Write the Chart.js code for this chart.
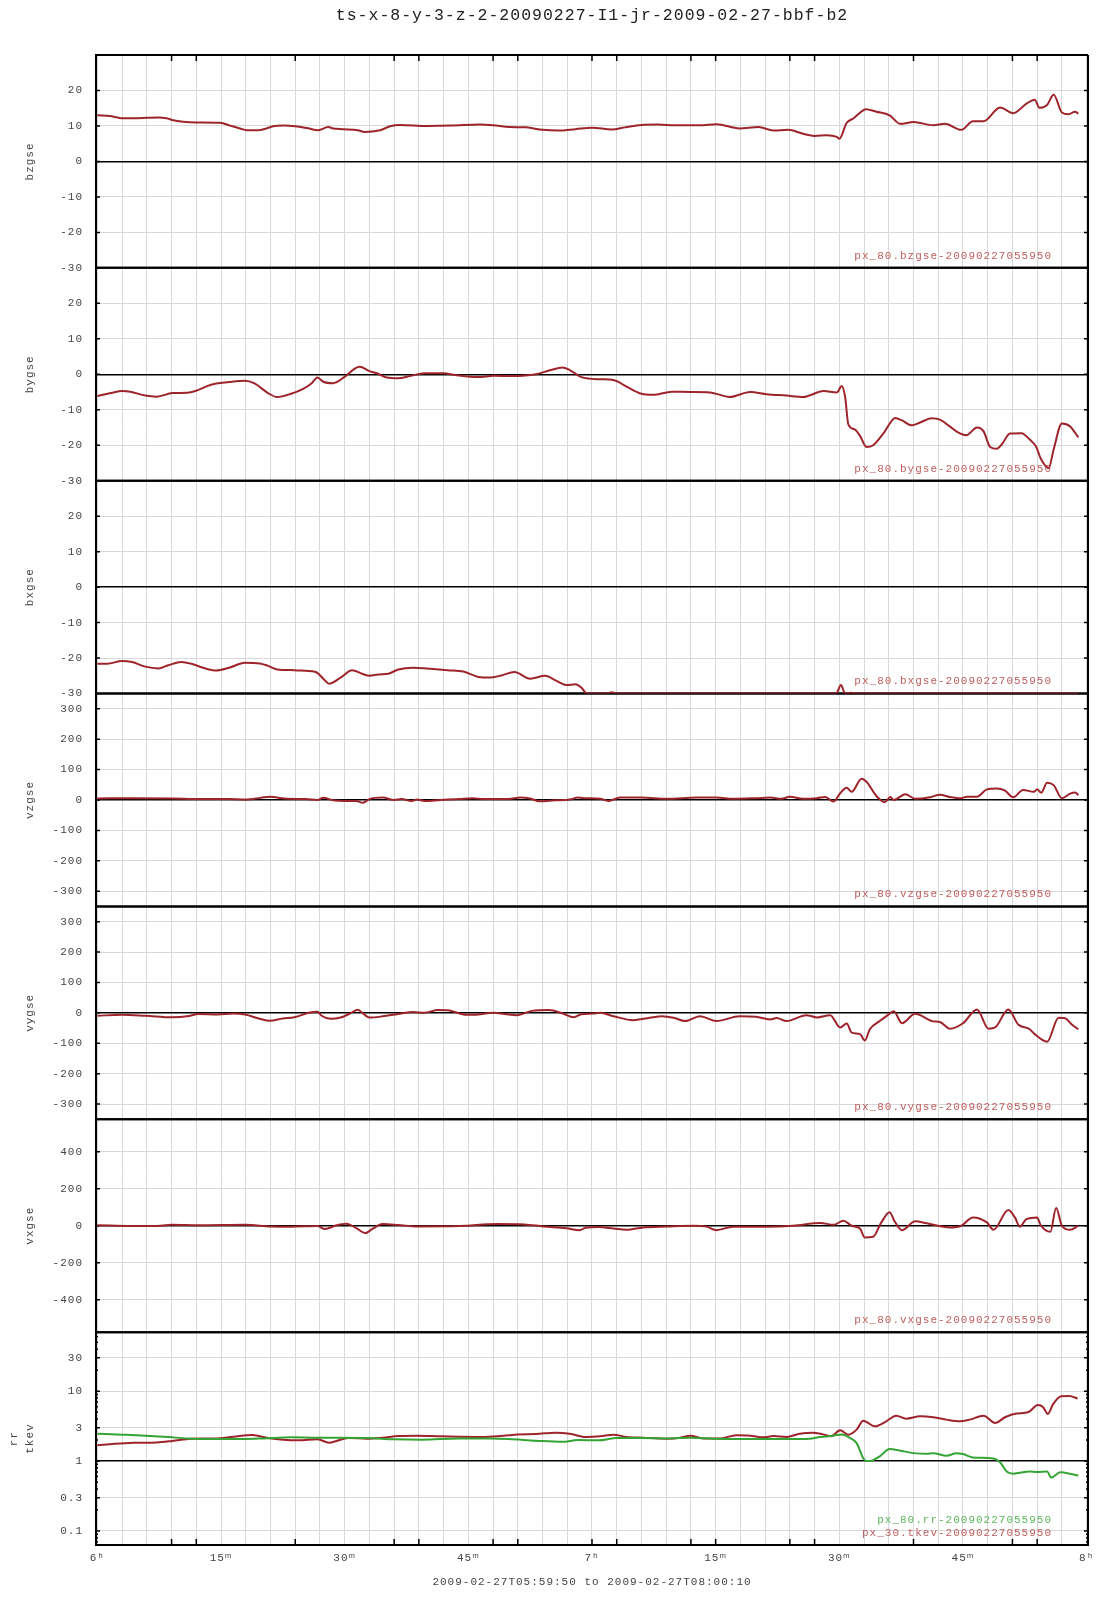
<!DOCTYPE html>
<html>
<head>
<meta charset="utf-8">
<title>ts-x-8-y-3-z-2-20090227-I1-jr-2009-02-27-bbf-b2</title>
<script src="https://cdn.jsdelivr.net/npm/chart.js@4.4.1/dist/chart.umd.min.js"></script>
<style>
  html, body { margin: 0; padding: 0; background: #fff; }
  canvas { display: block; }
</style>
</head>
<body>
<canvas id="chart" width="1107" height="1600"></canvas>
<script>
// each series: [minutes after 06:00, value]
const bzgse = [
  [0, 13.0], [1.5, 12.8], [2.9, 12.2], [4.4, 12.2], [6, 12.3], [7.4, 12.4], [8.4, 12.2], [9.2, 11.6], [10.4, 11.2], [12, 11.0],
  [14.9, 10.9], [16.1, 10.1], [17.3, 9.3], [18.1, 8.8], [19.5, 8.8], [20.5, 9.3], [21.3, 9.9], [22.6, 10.1], [24, 9.9], [25.4, 9.4],
  [26.8, 8.8], [28, 9.7], [28.6, 9.3], [29.8, 9.1], [31.6, 8.8], [32.4, 8.3], [34.3, 8.8], [35.5, 9.9], [36.7, 10.3], [40, 10.0],
  [43, 10.1], [46.4, 10.4], [48, 10.2], [50, 9.7], [52, 9.6], [54, 8.9], [56, 8.7], [58, 9.1], [60, 9.5], [62.4, 9.0],
  [64, 9.6], [66, 10.3], [68, 10.4], [70, 10.2], [73.1, 10.2], [75.1, 10.5], [77.9, 9.3], [80.2, 9.7], [82, 8.7], [83.8, 8.9],
  [85.6, 7.8], [87, 7.2], [88.5, 7.4], [89.7, 6.9], [90, 6.4], [90.9, 10.9], [91.7, 12.1], [92.4, 13.5], [93.2, 14.7], [94.5, 14.0],
  [96.1, 13.0], [97.4, 10.6], [99, 11.1], [101.4, 10.2], [102.8, 10.6], [104.8, 8.9], [106.2, 11.3], [107.5, 11.3], [109.5, 15.2], [111.1, 13.6],
  [112.7, 16.3], [113.7, 17.4], [114.3, 15.1], [115.2, 15.9], [116, 18.8], [117, 13.8], [117.8, 13.3], [118.6, 14.0], [119, 13.5]
];
const bygse = [
  [0, -6.1], [1.65, -5.3], [3, -4.7], [4, -4.9], [5.8, -6.0], [7.2, -6.3], [9.1, -5.3], [10.9, -5.2], [11.9, -4.7], [13.7, -3.0],
  [16, -2.2], [17.9, -1.8], [19, -2.5], [20.7, -5.3], [21.8, -6.4], [23.5, -5.5], [24.9, -4.2], [26, -2.5], [26.7, -0.9], [27.4, -2.1],
  [28.6, -2.5], [29.9, -0.9], [31.8, 2.1], [33, 0.9], [33.9, 0.3], [35.1, -0.9], [36.5, -1.1], [37.9, -0.5], [39.7, 0.3], [42, 0.3],
  [43.4, -0.2], [46.2, -0.8], [48.1, -0.4], [50.4, -0.5], [53.2, 0], [55, 1.2], [56.4, 1.9], [57.3, 1.2], [58.7, -0.8], [61, -1.4],
  [62.6, -1.6], [64.2, -3.5], [66, -5.5], [67.4, -5.8], [69.7, -4.9], [71.9, -5.0], [74.3, -5.1], [76.7, -6.4], [79.2, -5.0], [81.2, -5.6],
  [83.6, -6.0], [85.6, -6.4], [88.1, -4.7], [89.7, -5.1], [90.3, -3.3], [90.7, -6.3], [91.1, -14.2], [91.9, -15.6], [92.5, -17.3], [93.3, -20.5],
  [94.1, -20.0], [95.4, -16.5], [96.8, -12.3], [97.6, -13.0], [98.8, -14.4], [99.8, -13.6], [101.2, -12.4], [102.2, -12.8], [103.4, -14.7], [104.4, -16.4],
  [105.4, -17.2], [106.7, -15.0], [107.5, -16.1], [108.3, -20.5], [109.1, -21.0], [109.7, -19.8], [110.7, -16.7], [112.1, -16.6], [113.1, -18.4], [113.9, -20.5],
  [114.4, -23.6], [115.4, -26.4], [116, -21.2], [117, -13.9], [118, -14.7], [119, -17.8]
];
const bxgse = [
  [0, -21.6], [1.2, -21.6], [3, -20.8], [4.2, -21.1], [5.8, -22.4], [7.4, -22.9], [8.6, -22.0], [10.2, -21.1], [11.4, -21.6], [12.8, -22.7],
  [14.4, -23.5], [16, -22.7], [17.9, -21.3], [19.7, -21.5], [20.7, -22.2], [21.8, -23.2], [23.9, -23.4], [25.3, -23.6], [26.5, -23.9], [27.4, -25.8],
  [28.1, -27.2], [29.5, -25.5], [30.9, -23.4], [32.1, -24.4], [33, -25.0], [34.1, -24.6], [35.3, -24.4], [36.5, -23.2], [38.3, -22.7], [40.2, -23.0],
  [42.5, -23.4], [44.4, -23.8], [46.2, -25.3], [47.6, -25.5], [49, -24.9], [50.6, -23.9], [52.5, -25.8], [54.3, -25.0], [55.7, -26.4], [56.9, -27.6],
  [58, -27.4], [58.7, -28.3], [59.4, -30], [61.8, -30], [62.4, -29.6], [63, -30], [70, -30], [80, -30], [89.6, -30], [90.2, -27.6],
  [90.7, -30], [91.4, -29.8], [92, -30], [100, -30], [110, -30], [119, -30]
];
const vzgse = [
  [0, 5], [4.4, 6], [9.1, 5], [12.3, 3], [16, 3], [17.9, 1.5], [19.8, 7], [20.9, 11], [21.6, 9], [23, 4],
  [25.3, 3], [26.7, 0], [27.4, 7], [28.6, -1], [30, -3], [31.4, -3], [32.2, -9], [33, 3], [34.6, 8], [36, 0],
  [36.9, 3], [38.1, -3], [38.8, 1.5], [39.7, -3], [41.6, 0], [43.9, 3], [45.5, 6], [46.7, 3], [48.5, 3], [49.9, 3],
  [51.3, 8], [52.5, 5], [53.6, -4], [55.5, -1], [57.3, 1.5], [58.3, 8], [59.2, 6], [61, 4], [62, -3], [63.4, 8],
  [66, 8], [69.1, 4], [72.7, 8], [75.1, 8], [77.1, 4], [79.9, 6], [81.6, 8], [83, 4], [84, 11], [85.6, 4],
  [87.3, 6], [88.3, 10], [89.3, -5], [90.1, 22], [90.9, 40], [91.5, 27], [92.7, 70], [93.3, 60], [94.5, 13], [95.5, -7],
  [96.2, 10], [96.6, 0], [98, 19], [99.2, 4], [101, 9], [102.2, 17], [103.4, 10], [104.8, 6], [105.5, 11], [106.7, 11],
  [107.9, 35], [109.1, 38], [110.1, 31], [111.1, 9], [112.3, 33], [113.6, 27], [114, 35], [114.5, 24], [115.2, 57], [116, 49],
  [117, 6], [118, 21], [118.6, 25], [119, 16]
];
const vygse = [
  [0, -9.5], [3, -6.5], [5.8, -9.5], [9.1, -14.5], [10.9, -11.5], [12.3, -3.5], [14.6, -5.5], [16.5, -2.5], [17.9, -5.5], [19.8, -20.5],
  [20.9, -26], [22.5, -18.5], [23.9, -14.5], [25.8, 1], [26.7, 3.5], [27.2, -9.5], [28.3, -19.5], [29.5, -15.5], [30.7, -1.5], [31.6, 10.5],
  [32.1, 1], [33, -15.5], [34.6, -11.5], [36.5, -3.5], [38.3, 2.5], [39.7, 0], [41.3, 9.5], [42.5, 8.5], [44.8, -6.5], [45.7, -6.5],
  [48.1, 0], [49.4, -3.5], [50.9, -7.5], [52.7, 6.5], [54.8, 9.5], [56.4, -1.5], [57.8, -14.5], [58.7, -4.5], [60.1, -2.5], [61, 0],
  [62.6, -11], [65, -24], [67, -16], [68.5, -11], [69.9, -16], [71.3, -27], [73.1, -11], [75.1, -27], [77.9, -11], [79.9, -13],
  [81.6, -21.5], [82.4, -17], [83.6, -27], [86, -7.5], [87.3, -15], [88.9, -7.5], [90.1, -48], [90.9, -35], [91.5, -65], [92.5, -70],
  [93.1, -91], [93.7, -54], [94.9, -27], [95.8, -9], [96.6, 5], [97.6, -34], [99.2, -3], [101.4, -28], [102.2, -30], [103.4, -52],
  [105, -34], [106.7, 11], [108.1, -52], [108.9, -48], [110.5, 11], [111.7, -38], [113.1, -54], [113.7, -70], [115.2, -95], [116.6, -16],
  [117.4, -18], [118.2, -38], [119, -54]
];
const vxgse = [
  [0, 2], [6.8, -2], [9.1, 5], [12.3, 2], [17.9, 5], [21.1, -4], [23.5, -5], [26.7, -2], [27.6, -18], [29, 2],
  [30.2, 11], [31.4, -13], [32.5, -40], [33.4, -16], [34.6, 9], [36.5, 4], [38.8, -4], [43.9, -2], [48.5, 9], [51.8, 7],
  [54.1, -4], [56.9, -14], [58.5, -25], [59.2, -11], [60.8, -7], [62.6, -15], [64.2, -22], [66.2, -9], [69.1, -4], [72.3, 0],
  [73.9, -5], [75.1, -24], [77.1, -5], [81.2, -5], [84.4, 0], [87.7, 15], [89.3, 5], [90.5, 27], [91.5, 0], [92.5, -15],
  [93.1, -64], [94.1, -60], [95.1, 18], [96.1, 73], [96.7, 24], [97.6, -24], [99.2, 24], [100.6, 13], [103.4, -9], [104.8, 0],
  [106.2, 45], [107.9, 18], [108.7, -22], [110.5, 85], [111.3, 45], [111.9, -5], [112.7, 36], [114, 45], [114.4, 5], [115.6, -33],
  [116.3, 96], [117, 0], [118, -22], [119, 0]
];
const rr = [
  [0, 2.47], [3, 2.39], [5.8, 2.31], [8.6, 2.21], [10.9, 2.11], [14.2, 2.07], [17.9, 2.07], [20.2, 2.11], [23.5, 2.19], [26.7, 2.16],
  [29, 2.16], [32.7, 2.14], [36, 2.05], [39.3, 2.02], [43.9, 2.11], [47.6, 2.11], [49.9, 2.07], [53.2, 1.96], [56.4, 1.89], [58.3, 2.0],
  [60.8, 1.98], [63, 2.14], [65.8, 2.14], [69.1, 2.11], [71.9, 2.16], [75.1, 2.09], [79.2, 2.07], [83.2, 2.07], [86, 2.07], [87.7, 2.21],
  [89.3, 2.31], [90.3, 2.41], [91.3, 2.14], [92.1, 1.81], [92.9, 1.1], [93.3, 1.0], [93.9, 1.01], [94.9, 1.17], [96.1, 1.49], [97.3, 1.42],
  [99, 1.3], [100.6, 1.27], [101.4, 1.29], [103, 1.19], [104.2, 1.3], [105, 1.26], [106.2, 1.13], [108.7, 1.09], [109.5, 0.96], [110.3, 0.71],
  [111.1, 0.66], [113.1, 0.71], [114, 0.7], [115.2, 0.71], [115.7, 0.58], [116.8, 0.69], [118, 0.66], [119, 0.62]
];
const tkev = [
  [0, 1.68], [2.1, 1.77], [4.4, 1.83], [7.2, 1.85], [9.1, 1.94], [11.4, 2.09], [14.2, 2.11], [16.5, 2.23], [18.8, 2.36], [20.7, 2.14],
  [22.5, 2.02], [24.4, 1.98], [26.7, 2.05], [28.1, 1.83], [29, 1.94], [30.4, 2.14], [32.7, 2.09], [34.6, 2.16], [36.5, 2.28], [38.8, 2.31],
  [41.6, 2.26], [43.9, 2.23], [46.7, 2.21], [48.5, 2.26], [50.9, 2.41], [53.2, 2.44], [55.5, 2.55], [57.3, 2.47], [59.2, 2.21], [61, 2.26],
  [62.6, 2.39], [64.2, 2.21], [66.2, 2.16], [69.1, 2.09], [70.7, 2.16], [71.9, 2.31], [73.5, 2.11], [75.5, 2.11], [77.5, 2.34], [79.2, 2.31],
  [80.8, 2.19], [82, 2.28], [83.6, 2.21], [85.2, 2.47], [86.8, 2.55], [88, 2.41], [89, 2.26], [90.1, 2.76], [91.1, 2.39], [92.1, 2.82],
  [92.9, 3.79], [94.3, 3.14], [95.7, 3.71], [96.9, 4.47], [98.1, 4.05], [99.8, 4.37], [101.4, 4.24], [103, 3.92], [104.6, 3.71], [105.8, 3.92],
  [107.5, 4.47], [108.9, 3.51], [110.1, 4.24], [111.5, 4.78], [112.9, 4.99], [114.1, 6.36], [114.7, 5.95], [115.3, 4.73], [115.9, 6.43], [116.9, 8.46],
  [117.9, 8.55], [118.9, 7.86]
];

// tick labels and tick marks
const bTicks = [-30, -20, -10, 0, 10, 20];
const vTicks = [-300, -200, -100, 0, 100, 200, 300];
const vxTicks = [-400, -200, 0, 200, 400];
const logTicks = [0.1, 0.3, 1, 3, 10, 30];
const logMinor = [0.07, 0.08, 0.09, 0.2, 0.4, 0.5, 0.6, 0.7, 0.8, 0.9, 2, 4, 5, 6, 7, 8, 9, 20, 40, 50, 60];
const frameMarks = [9, 12, 24, 36, 39, 48, 51, 60, 63, 72, 75, 84, 87, 99, 111, 114]; // black marks on top/bottom frame (minutes)
const timeStart = -10 / 60;   // 05:59:50
const timeEnd = 120 + 10 / 60; // 08:00:10

const FONT = "'Liberation Mono', 'DejaVu Sans Mono', monospace";
const GRID = '#d8d8d8';
const RED = 'rgb(158, 36, 44)';
const GREEN = 'rgb(52, 164, 52)';
const TXT = '#444';

const xTicks = [];
for (let m = 0; m <= 120; m += 3) xTicks.push(m);

function xLabel(v) {
  if (v % 60 === 0) return (6 + v / 60) + 'ʰ';
  if (v % 15 === 0) return (v % 60) + 'ᵐ';
  return '';
}

function panel(weight, title, ticks, min, max, type, titlePad, titleLine) {
  const base = type === 'logarithmic' ? 1 : 0;
  return {
    type: type || 'linear',
    position: 'left',
    stack: 'panels',
    stackWeight: 1,
    weight: weight,
    min: min,
    max: max,
    afterBuildTicks: s => { s.ticks = ticks.map(v => ({ value: v })); },
    afterFit: s => { s.width = 96; },
    ticks: { font: { family: FONT, size: 11 }, color: TXT, padding: 13, callback: v => String(v) },
    grid: {
      drawTicks: false,
      color: c => (c.tick && c.tick.value === base) ? '#000' : GRID,
      lineWidth: c => (c.tick && c.tick.value === base) ? 1.5 : 1
    },
    border: { color: '#000', width: 2 },
    title: {
      display: true, text: title, color: TXT,
      font: { family: FONT, size: 11, lineHeight: titleLine || 1.2 },
      padding: { top: titlePad === undefined ? 23 : titlePad, bottom: 0 }
    }
  };
}

function line(points, axis, color, note, noteColor) {
  return {
    data: points.map(([x, y]) => ({ x, y })),
    yAxisID: axis,
    borderColor: color,
    borderWidth: 2,
    pointRadius: 0,
    fill: false,
    cubicInterpolationMode: 'monotone',
    note: note,
    noteColor: noteColor
  };
}

// letter spacing like the original plot font
const spacing = {
  id: 'spacing',
  beforeUpdate(chart) { chart.ctx.letterSpacing = '1px'; },
  beforeDraw(chart) { chart.ctx.letterSpacing = '1px'; }
};

// keep each line inside its own panel
const panelClip = {
  id: 'panelClip',
  beforeDatasetDraw(chart, args) {
    const s = chart.scales[args.meta.yAxisID];
    const a = chart.chartArea;
    chart.ctx.save();
    chart.ctx.beginPath();
    chart.ctx.rect(a.left, s.top - 1.5, a.right - a.left, s.bottom - s.top + 3);
    chart.ctx.clip();
  },
  afterDatasetDraw(chart) { chart.ctx.restore(); }
};

// panel borders, inner tick marks and the series notes
const panelDecor = {
  id: 'panelDecor',
  beforeDatasetsDraw(chart) {
    const { ctx, chartArea: a } = chart;
    const ids = ['bz', 'by', 'bx', 'vz', 'vy', 'vx', 'rt'];
    const tickMark = (s, v, len) => {
      const y = s.getPixelForValue(v);
      ctx.beginPath();
      ctx.moveTo(a.left, y); ctx.lineTo(a.left + len, y);
      ctx.moveTo(a.right - len, y); ctx.lineTo(a.right, y);
      ctx.stroke();
    };
    ctx.save();
    ctx.strokeStyle = '#000';
    ids.forEach(id => {
      const s = chart.scales[id];
      ctx.lineWidth = 2;
      ctx.beginPath();
      ctx.moveTo(a.left, s.top); ctx.lineTo(a.right, s.top);
      ctx.moveTo(a.left, s.bottom); ctx.lineTo(a.right, s.bottom);
      ctx.stroke();
      ctx.lineWidth = 1.5;
      s.ticks.forEach(t => tickMark(s, t.value, 4));
    });
    const rt = chart.scales.rt;
    ctx.lineWidth = 1.5;
    logMinor.forEach(v => tickMark(rt, v, 2));

    ctx.lineWidth = 2;
    ctx.beginPath();
    ctx.moveTo(a.right, a.top); ctx.lineTo(a.right, a.bottom);
    ctx.stroke();

    // marks on the top and bottom frame
    const x = chart.scales.x;
    ctx.lineWidth = 1.5;
    frameMarks.forEach(m => {
      const px = x.getPixelForValue(m);
      ctx.beginPath();
      ctx.moveTo(px, a.top); ctx.lineTo(px, a.top + 6);
      ctx.moveTo(px, a.bottom - 6); ctx.lineTo(px, a.bottom);
      ctx.stroke();
    });

    ctx.font = '11px ' + FONT;
    ctx.textAlign = 'right';
    ctx.textBaseline = 'middle';
    ids.forEach(id => {
      const s = chart.scales[id];
      const sets = chart.data.datasets.filter(d => d.yAxisID === id);
      sets.forEach((d, k) => {
        ctx.fillStyle = d.noteColor;
        ctx.fillText(d.note, a.right - 36, s.bottom - 12 - (sets.length - 1 - k) * 12.7);
      });
    });
    ctx.restore();
  }
};

const stamp = '-20090227055950';
const REDTXT = 'rgb(192, 96, 96)';
const GREENTXT = 'rgb(92, 182, 92)';

new Chart(document.getElementById('chart'), {
  type: 'line',
  data: {
    datasets: [
      line(bzgse, 'bz', RED, 'px_80.bzgse' + stamp, REDTXT),
      line(bygse, 'by', RED, 'px_80.bygse' + stamp, REDTXT),
      line(bxgse, 'bx', RED, 'px_80.bxgse' + stamp, REDTXT),
      line(vzgse, 'vz', RED, 'px_80.vzgse' + stamp, REDTXT),
      line(vygse, 'vy', RED, 'px_80.vygse' + stamp, REDTXT),
      line(vxgse, 'vx', RED, 'px_80.vxgse' + stamp, REDTXT),
      line(rr, 'rt', GREEN, 'px_80.rr' + stamp, GREENTXT),
      line(tkev, 'rt', RED, 'px_30.tkev' + stamp, REDTXT)
    ]
  },
  options: {
    responsive: false,
    animation: false,
    events: [],
    devicePixelRatio: 1,
    layout: { padding: { left: 0, right: 19, top: 0, bottom: 0 } },
    plugins: {
      legend: { display: false },
      tooltip: { enabled: false },
      title: {
        display: true,
        fullSize: false,
        text: 'ts-x-8-y-3-z-2-20090227-I1-jr-2009-02-27-bbf-b2',
        color: '#222',
        font: { family: FONT, size: 16.5, weight: 'normal', lineHeight: 1.2 },
        padding: { top: 6, bottom: 29.2 }
      }
    },
    scales: {
      x: {
        type: 'linear',
        position: 'bottom',
        min: timeStart,
        max: timeEnd,
        afterBuildTicks: s => { s.ticks = xTicks.map(v => ({ value: v })); },
        afterFit: s => { s.height = 55; },
        ticks: { font: { family: FONT, size: 11 }, color: TXT, padding: 6, autoSkip: false, maxRotation: 0, minRotation: 0, callback: xLabel },
        grid: { drawTicks: false, color: GRID, lineWidth: 1 },
        border: { color: '#000', width: 2 },
        title: {
          display: true, text: '2009-02-27T05:59:50 to 2009-02-27T08:00:10', color: TXT,
          font: { family: FONT, size: 11 }, padding: { top: 4, bottom: 11 }
        }
      },
      bz: panel(7, 'bzgse', bTicks, -30, 30),
      by: panel(6, 'bygse', bTicks, -30, 30),
      bx: panel(5, 'bxgse', bTicks, -30, 30),
      vz: panel(4, 'vzgse', vTicks, -350, 350),
      vy: panel(3, 'vygse', vTicks, -350, 350),
      vx: panel(2, 'vxgse', vxTicks, -575, 575),
      rt: panel(1, ['rr', 'tkev'], logTicks, 0.063, 70, 'logarithmic', 6.5, 1.45)
    }
  },
  plugins: [spacing, panelClip, panelDecor]
});
</script>
</body>
</html>
